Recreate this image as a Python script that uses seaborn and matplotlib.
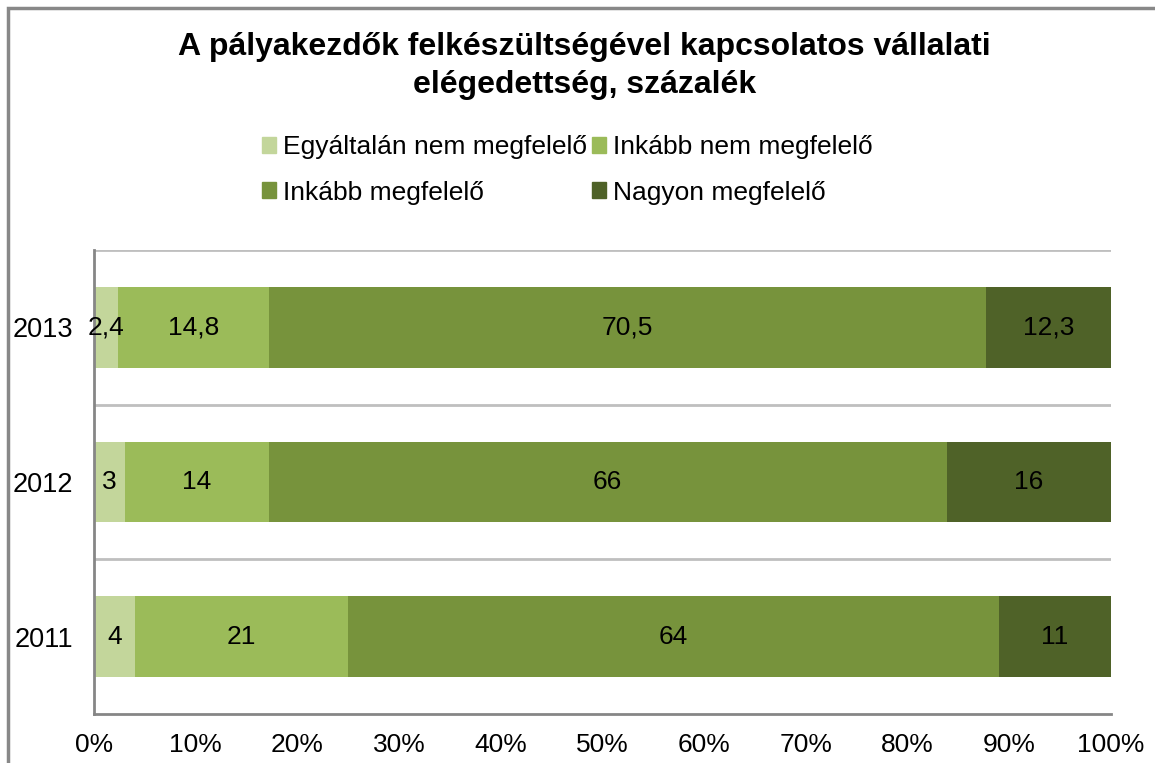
import matplotlib
matplotlib.use("Agg")
import matplotlib.pyplot as plt
import matplotlib.patches as mpatches
import seaborn as sns
import pandas as pd
import numpy as np

years = ["2013", "2012", "2011"]
categories = ["Egyáltalán nem megfelelő", "Inkább nem megfelelő",
              "Inkább megfelelő", "Nagyon megfelelő"]
v_egyaltalan = [2.4, 3, 4]
v_inkabb_nem = [14.8, 14, 21]
v_inkabb = [70.5, 66, 64]
v_nagyon = [12.3, 16, 11]
label_text = [["2,4", "14,8", "70,5", "12,3"],
              ["3", "14", "66", "16"],
              ["4", "21", "64", "11"]]
colors = ["#C3D69B", "#9BBB59", "#77933C", "#4F6228"]
xticks = [0, 10, 20, 30, 40, 50, 60, 70, 80, 90, 100]

sns.set_theme(style="white")
plt.rcParams["font.family"] = ["Liberation Sans", "DejaVu Sans"]
plt.rcParams["text.color"] = "black"

vals = np.array([v_egyaltalan, v_inkabb_nem, v_inkabb, v_nagyon]).T  # rows = years
pct = vals / vals.sum(axis=1, keepdims=True) * 100
cum = np.cumsum(pct, axis=1)

fig = plt.figure(figsize=(11.55, 7.63), dpi=100)
ax = fig.add_axes([94/1155, 1-714/763, (1111-94)/1155, (714-250)/763])

# draw stacked bars by overlaying cumulative totals (widest first)
for i in reversed(range(len(categories))):
    df = pd.DataFrame({"year": years, "value": cum[:, i]})
    sns.barplot(data=df, x="value", y="year", order=years, orient="h",
                color=colors[i], width=0.52, ax=ax, linewidth=0,
                saturation=1)

# data labels
for r in range(len(years)):
    for c in range(len(categories)):
        start = cum[r, c] - pct[r, c]
        ax.text(start + pct[r, c] / 2, r, label_text[r][c], ha="center",
                va="center", fontsize=19, color="black")

ax.set_xlim(0, 100)
ax.set_ylim(2.5, -0.5)
ax.set_xticks(xticks)
ax.set_xticklabels([f"{t}%" for t in xticks], fontsize=19, color="black")
ax.set_yticks(range(len(years)))
ax.set_yticklabels(years, fontsize=19.5, color="black")
ax.set_xlabel("")
ax.set_ylabel("")
for y in [-0.5, 0.5, 1.5]:
    ax.axhline(y, color="#BFBFBF", lw=2, zorder=0)
for s in ["top", "right"]:
    ax.spines[s].set_visible(False)
for s in ["left", "bottom"]:
    ax.spines[s].set_color("#868686")
    ax.spines[s].set_linewidth(2)
ax.tick_params(axis="x", direction="out", length=8, width=2, color="#868686",
               pad=6, labelcolor="black")
ax.tick_params(axis="y", length=0, pad=15, labelcolor="black")

# title
fig.text(0.506, 1-47/763, "A pályakezdők felkészültségével kapcsolatos vállalati",
         ha="center", va="center", fontsize=23, fontweight="bold", color="black")
fig.text(0.506, 1-85/763, "elégedettség, százalék",
         ha="center", va="center", fontsize=23, fontweight="bold", color="black")

# legend (row-major order)
handles = [mpatches.Patch(color=colors[i], label=categories[i]) for i in range(4)]
order = [0, 2, 1, 3]
leg = fig.legend([handles[i] for i in order], [categories[i] for i in order],
                 ncol=2, loc="center", bbox_to_anchor=(0.491, 1-170/763),
                 frameon=False, fontsize=19, handlelength=0.55, handleheight=0.55,
                 handletextpad=0.25, columnspacing=0.2, labelspacing=0.8)
for t in leg.get_texts():
    t.set_color("black")

# outer chart border (left and top visible)
fig.patches.append(mpatches.Rectangle((8/1155, -0.2), 1.5, 1.2 - 8/763,
                                      transform=fig.transFigure, fill=False,
                                      edgecolor="#888888", lw=2.5))

fig.savefig("out.png", dpi=100)
